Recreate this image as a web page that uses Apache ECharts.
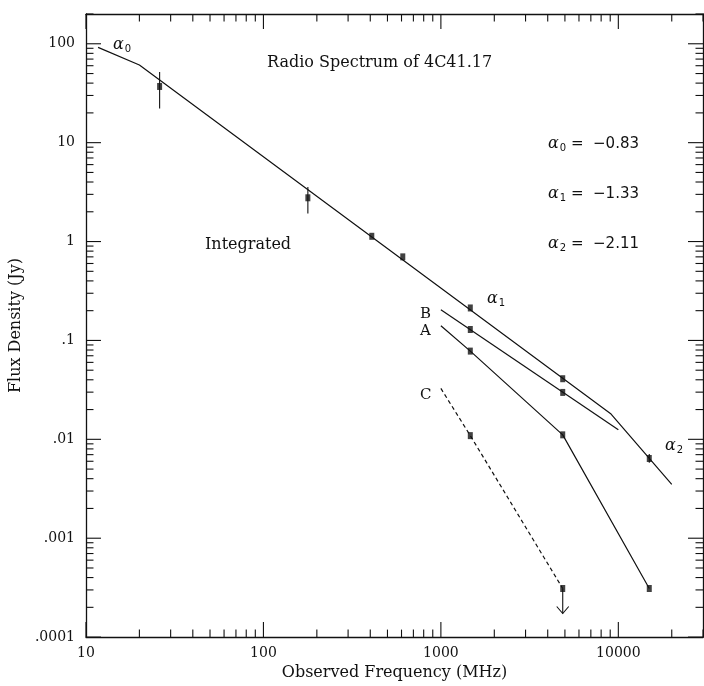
<!DOCTYPE html>
<html><head><meta charset="utf-8">
<script src="https://cdn.jsdelivr.net/npm/echarts@6/dist/echarts.min.js"></script>
<style>html,body{margin:0;padding:0;background:#fff}#c{width:704px;height:686px}</style>
</head><body><div id="c"></div>
<script>
// ---- axis ranges and tick labels ----
const xMin = 10, xMax = 30000, yMin = 0.0001, yMax = 200;
const xDecades = [10, 100, 1000, 10000];
const xTickLabels = ['10', '100', '1000', '10000'];
const yDecades = [0.0001, 0.001, 0.01, 0.1, 1, 10, 100];
const yTickLabels = ['.0001', '.001', '.01', '.1', '1', '10', '100'];
const tickMultiples = [1, 2, 3, 4, 5, 6, 7, 8, 9];

// ---- Integrated spectrum: broken power-law fit ----
const integFitFreq = [11.7, 20, 9100, 20000];
const integFitFlux = [92, 61, 0.018, 0.0035];
// Integrated measurements
const integFreq = [26, 178, 408, 610, 1465, 4860, 14940];
const integFlux = [37, 2.77, 1.13, 0.70, 0.213, 0.041, 0.0064];
// error bars
const errFreq = [26, 178, 14940];
const errLow  = [22.2, 1.92, 0.0058];
const errHigh = [51.9, 3.56, 0.0071];

// ---- Component B ----
const bFitFreq = [1000, 10000];
const bFitFlux = [0.204, 0.0125];
const bFreq = [1465, 4860];
const bFlux = [0.129, 0.0298];

// ---- Component A ----
const aFitFreq = [1000, 1465, 4860, 14940];
const aFitFlux = [0.141, 0.078, 0.0111, 0.00031];
const aFreq = [1465, 4860, 14940];
const aFlux = [0.078, 0.0111, 0.00031];

// ---- Component C ----
const cFitFreq = [1000, 1465, 4860];
const cFitFlux = [0.0327, 0.0109, 0.00031];
const cFreq = [1465];
const cFlux = [0.0109];
const cLimitFreq = [4860];
const cLimitFlux = [0.00031];

// ---- build ----
const zip = (a, b) => a.map((v, i) => [v, b[i]]);
const xTickData = [];
xDecades.forEach(d => tickMultiples.forEach(m => { const v = d * m; if (v <= xMax) xTickData.push([v, 1, m === 1 ? 1 : 0]); }));
const yTickData = [];
yDecades.forEach(d => tickMultiples.forEach(m => { const v = d * m; if (v <= yMax) yTickData.push([100, v, m === 1 ? 1 : 0]); }));

const INK = '#111';
const serif = 'DejaVu Serif';

function decadeLabel(v, decades, labels) {
  const lg = Math.log10(v);
  const r = Math.round(lg);
  if (Math.abs(lg - r) > 1e-6) return '';
  const idx = decades.findIndex(d => Math.round(Math.log10(d)) === r);
  return idx >= 0 ? labels[idx] : '';
}

function lineSeries(f, s, dashed) {
  return {
    type: 'line', data: zip(f, s), symbol: 'none', silent: true, z: 3,
    lineStyle: { color: INK, width: 1.2, type: dashed ? [4, 3] : 'solid' }
  };
}
function pointSeries(f, s) {
  return {
    type: 'scatter', data: zip(f, s), symbol: 'rect', symbolSize: [5, 7],
    itemStyle: { color: INK }, silent: true, z: 5
  };
}

const option = {
  animation: false,
  backgroundColor: '#fff',
  grid: { left: 79, right: 1, top: 14, bottom: 38, containLabel: false },
  xAxis: [{
    type: 'log', logBase: 10, min: xMin, max: xMax, position: 'bottom',
    name: 'Observed Frequency (MHz)', nameLocation: 'middle', nameGap: 24,
    nameTextStyle: { fontFamily: serif, fontSize: 16, color: INK },
    axisLine: { show: true, lineStyle: { color: INK, width: 1.3 } },
    axisTick: { show: false }, splitLine: { show: false },
    axisLabel: { margin: 9, fontFamily: serif, fontSize: 14, color: INK,
      showMaxLabel: false, formatter: v => decadeLabel(v, xDecades, xTickLabels) }
  }, {
    type: 'log', logBase: 10, min: xMin, max: xMax, position: 'top',
    axisLine: { show: true, lineStyle: { color: INK, width: 1.3 } },
    axisTick: { show: false }, axisLabel: { show: false }, splitLine: { show: false }
  }],
  yAxis: [{
    type: 'log', logBase: 10, min: yMin, max: yMax, position: 'left',
    name: 'Flux Density (Jy)', nameLocation: 'middle', nameGap: 42,
    nameTextStyle: { fontFamily: serif, fontSize: 16, color: INK },
    axisLine: { show: true, lineStyle: { color: INK, width: 1.3 } },
    axisTick: { show: false }, splitLine: { show: false },
    axisLabel: { margin: 11, fontFamily: serif, fontSize: 14, color: INK,
      showMaxLabel: false, formatter: v => decadeLabel(v, yDecades, yTickLabels) }
  }, {
    type: 'log', logBase: 10, min: yMin, max: yMax, position: 'right',
    axisLine: { show: true, lineStyle: { color: INK, width: 1.3 } },
    axisTick: { show: false }, axisLabel: { show: false }, splitLine: { show: false }
  }],
  series: [
    // x ticks (bottom + top), inward
    {
      type: 'custom', data: xTickData, encode: { x: 0, y: 1 }, silent: true, z: 2,
      renderItem: (params, api) => {
        const cs = params.coordSys;
        const x = api.coord([api.value(0), 1])[0];
        const len = api.value(2) ? 15 : 7.5;
        const yb = cs.y + cs.height, yt = cs.y;
        const st = { stroke: INK, lineWidth: 1.1 };
        return { type: 'group', children: [
          { type: 'line', shape: { x1: x, y1: yb, x2: x, y2: yb - len }, style: st },
          { type: 'line', shape: { x1: x, y1: yt, x2: x, y2: yt + len }, style: st }
        ] };
      }
    },
    // y ticks (left + right), inward
    {
      type: 'custom', data: yTickData, encode: { x: 0, y: 1 }, silent: true, z: 2,
      renderItem: (params, api) => {
        const cs = params.coordSys;
        const y = api.coord([100, api.value(1)])[1];
        const len = api.value(2) ? 15 : 7.5;
        const xl = cs.x, xr = cs.x + cs.width;
        const st = { stroke: INK, lineWidth: 1.1 };
        return { type: 'group', children: [
          { type: 'line', shape: { x1: xl, y1: y, x2: xl + len, y2: y }, style: st },
          { type: 'line', shape: { x1: xr, y1: y, x2: xr - len, y2: y }, style: st }
        ] };
      }
    },
    lineSeries(integFitFreq, integFitFlux),
    lineSeries(bFitFreq, bFitFlux),
    lineSeries(aFitFreq, aFitFlux),
    lineSeries(cFitFreq, cFitFlux, true),
    pointSeries(integFreq, integFlux),
    pointSeries(bFreq, bFlux),
    pointSeries(aFreq, aFlux),
    pointSeries(cFreq, cFlux),
    pointSeries(cLimitFreq, cLimitFlux),
    // error bars
    {
      type: 'custom', data: errFreq.map((f, i) => [f, errLow[i], errHigh[i]]),
      encode: { x: 0, y: [1, 2] }, silent: true, z: 4,
      renderItem: (params, api) => {
        const p1 = api.coord([api.value(0), api.value(2)]);
        const p2 = api.coord([api.value(0), api.value(1)]);
        return { type: 'line', shape: { x1: p1[0], y1: p1[1], x2: p2[0], y2: p2[1] },
          style: { stroke: INK, lineWidth: 1.1 } };
      }
    },
    // upper limit arrow
    {
      type: 'custom', data: zip(cLimitFreq, cLimitFlux), encode: { x: 0, y: 1 }, silent: true, z: 4,
      renderItem: (params, api) => {
        const p = api.coord([api.value(0), api.value(1)]);
        const st = { stroke: INK, lineWidth: 1.1, fill: null };
        return { type: 'group', children: [
          { type: 'line', shape: { x1: p[0], y1: p[1], x2: p[0], y2: p[1] + 25 }, style: st },
          { type: 'polyline', shape: { points: [[p[0] - 6, p[1] + 18], [p[0], p[1] + 25], [p[0] + 6, p[1] + 18]] }, style: st }
        ] };
      }
    }
  ],
  graphic: []
};

const alphaRich = {
  a: { fontFamily: serif, fontStyle: 'italic', fontSize: 16, fill: INK },
  s: { fontFamily: 'DejaVu Sans', fontSize: 10, fill: INK, padding: [8, 0, 0, 1] },
  t: { fontFamily: 'DejaVu Sans', fontSize: 15, fill: INK }
};
function txt(x, y, text, font, size, rich) {
  const style = { text, fill: INK, textVerticalAlign: 'middle', textAlign: 'left' };
  if (rich) { style.rich = alphaRich; } else { style.font = size + 'px "' + font + '"'; }
  return { type: 'text', x, y, style, silent: true, z: 10 };
}
option.graphic = [
  txt(113, 45, '{a|α}{s|0}', null, 0, true),
  txt(267, 63, 'Radio Spectrum of 4C41.17', serif, 16),
  txt(548, 144, '{a|α}{s|0}{t| =  −0.83}', null, 0, true),
  txt(548, 194, '{a|α}{s|1}{t| =  −1.33}', null, 0, true),
  txt(548, 244, '{a|α}{s|2}{t| =  −2.11}', null, 0, true),
  txt(205, 245, 'Integrated', serif, 16),
  txt(487, 299, '{a|α}{s|1}', null, 0, true),
  txt(420, 314, 'B', serif, 15),
  txt(420, 331, 'A', serif, 15),
  txt(420, 395, 'C', serif, 15),
  txt(665, 446, '{a|α}{s|2}', null, 0, true)
];

const chart = echarts.init(document.getElementById('c'), null, { renderer: 'canvas' });
chart.setOption(option);
</script></body></html>
